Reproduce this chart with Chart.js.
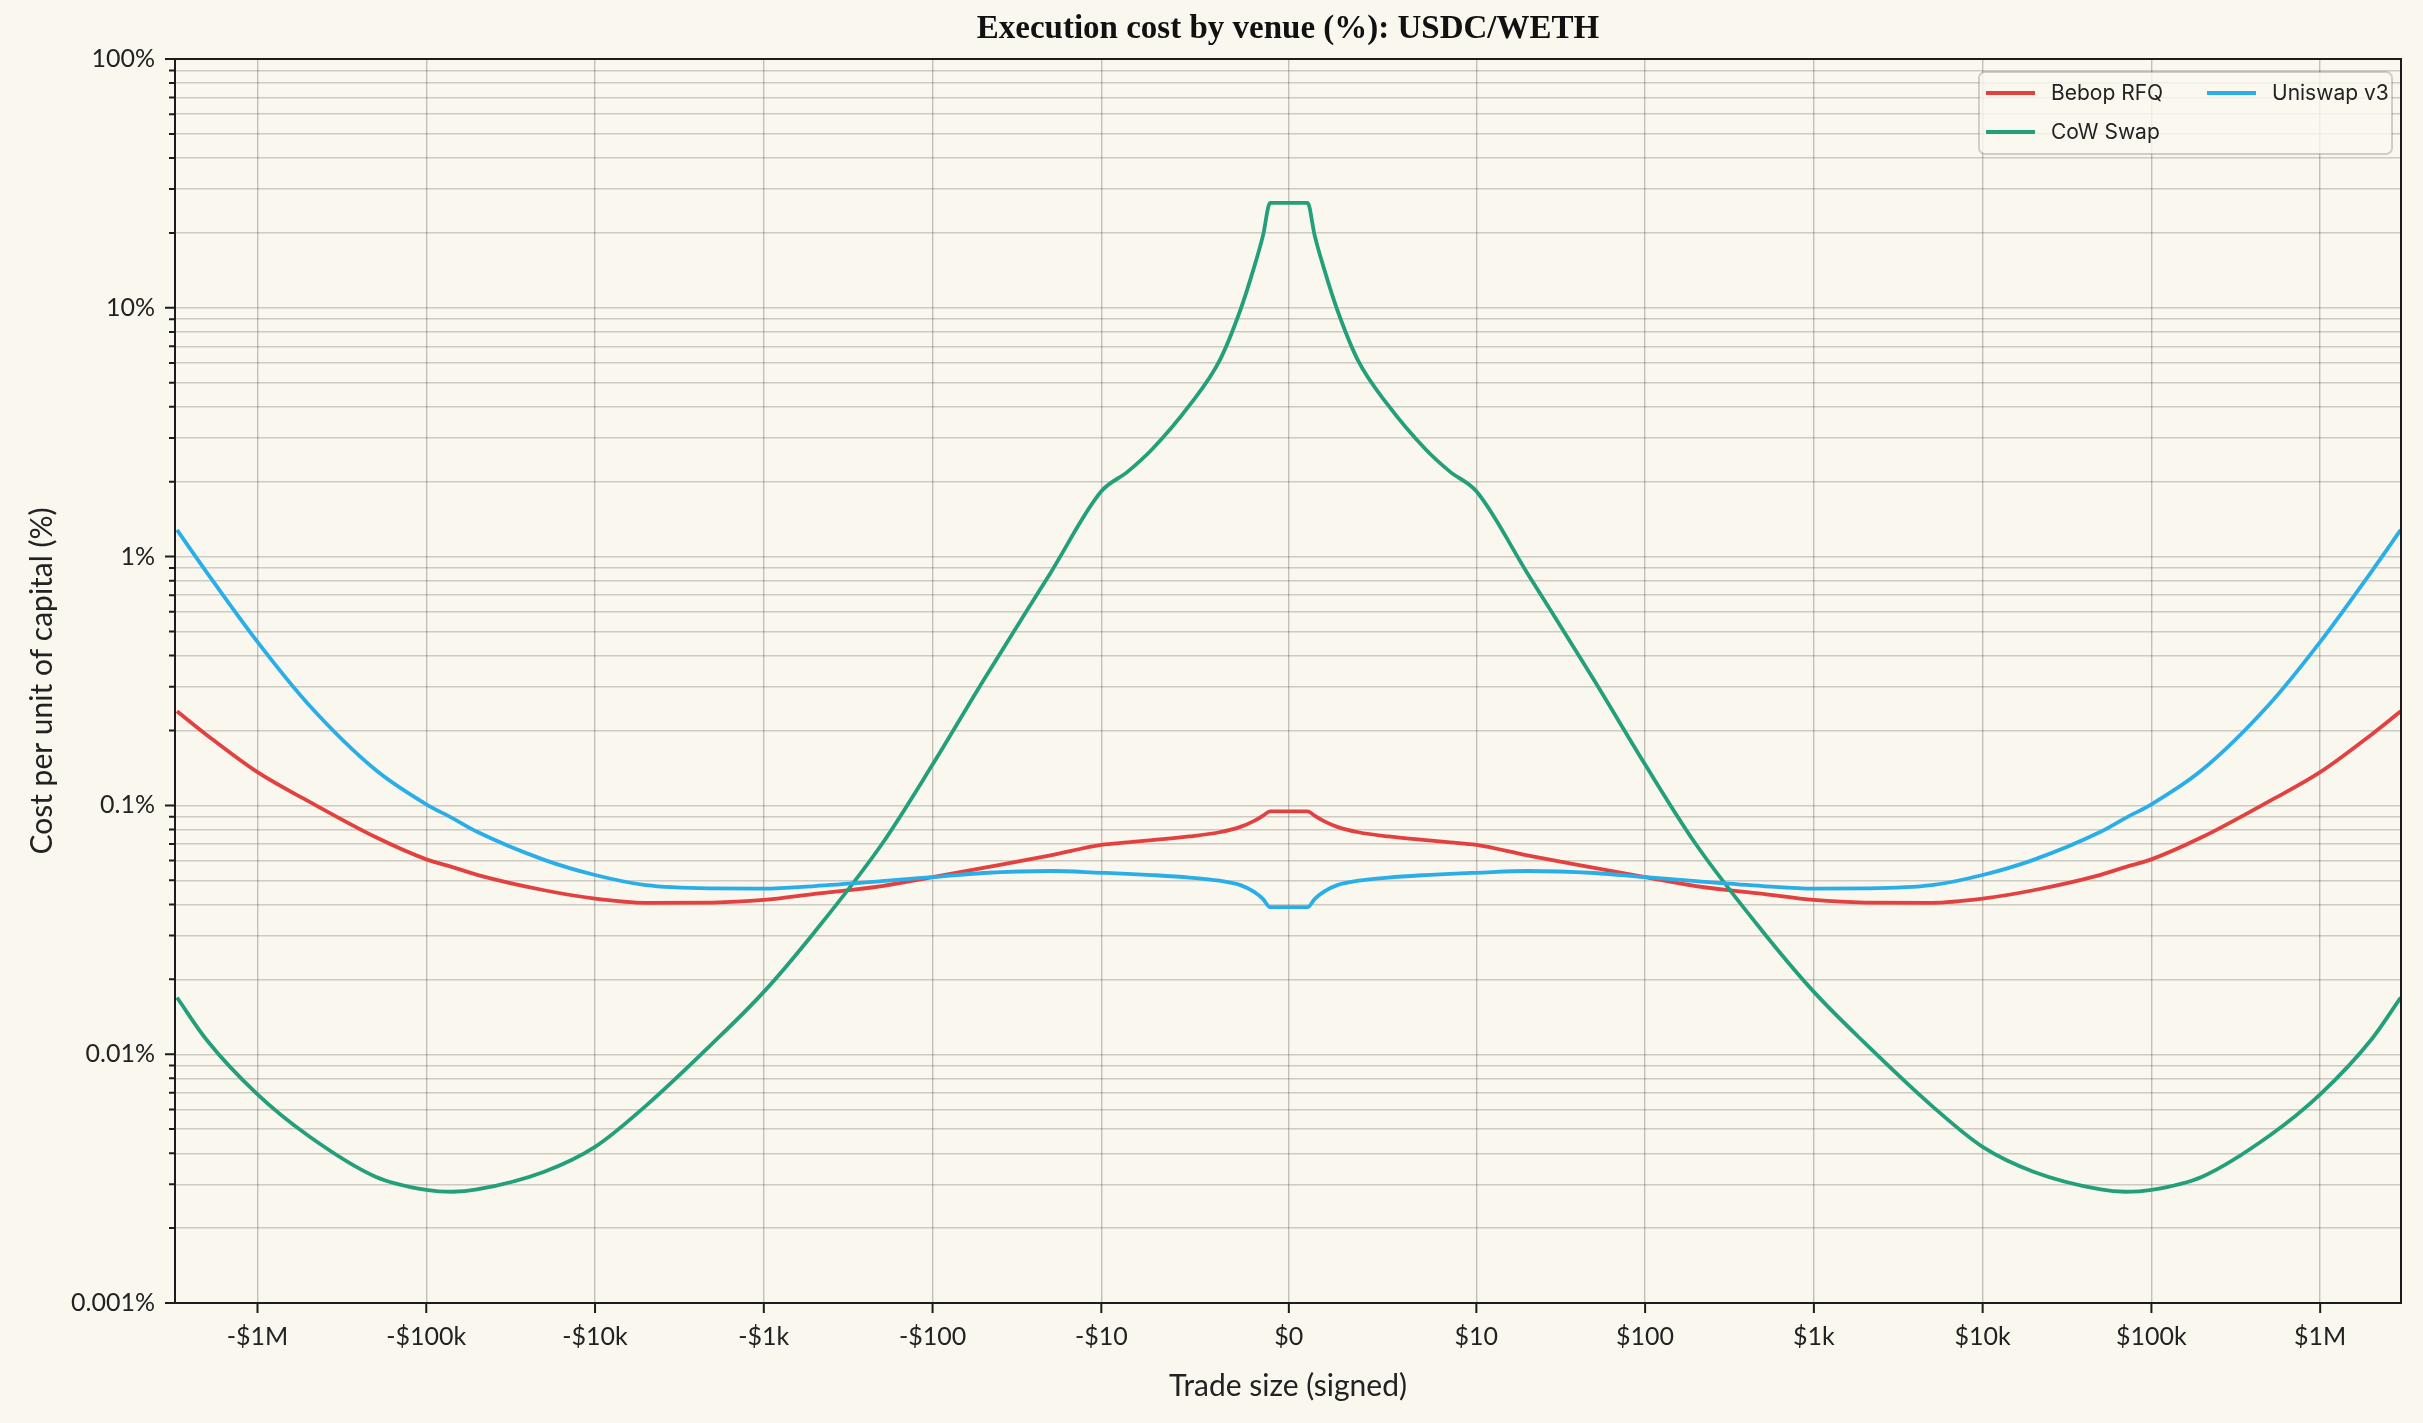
<!DOCTYPE html>
<html>
<head>
<meta charset="utf-8">
<title>Execution cost by venue</title>
<script src="https://cdn.jsdelivr.net/npm/chart.js@4.4.1/dist/chart.umd.min.js"></script>
<style>
  html, body { margin: 0; padding: 0; background: #faf7ef; }
  #wrap { width: 2423px; height: 1423px; }
</style>
</head>
<body>
<div id="wrap"><canvas id="Chart" width="2423" height="1423"></canvas></div>
<script>
// trade sizes in USD (buy side); the sell side is the mirror image
const sizes = [1, 1.1, 1.25, 1.5, 2, 3, 5, 7, 10, 20, 50, 100, 200, 500,
  1e3, 2e3, 5e3, 1e4, 2e4, 5e4, 7e4, 1e5, 2e5, 5e5, 1e6, 2e6, 3e6];

// cost per unit of capital, %
const bebopRfq = [0.0946, 0.091, 0.0865, 0.082, 0.078, 0.075, 0.0725, 0.071, 0.0694,
  0.063, 0.0561, 0.0515, 0.0474, 0.0441, 0.0417, 0.0407, 0.0406, 0.0422, 0.0456,
  0.0526, 0.0565, 0.0607, 0.0746, 0.104, 0.136, 0.192, 0.239];
const cowSwap = [26.4, 19.6, 14.4, 9.8, 6.1, 4.06, 2.7, 2.19, 1.83,
  0.86, 0.318, 0.146, 0.0698, 0.031, 0.0178, 0.0111, 0.0062, 0.00424, 0.00337,
  0.00286, 0.0028, 0.00285, 0.00322, 0.0047, 0.00689, 0.0114, 0.0169];
const uniswapV3 = [0.039, 0.042, 0.045, 0.0478, 0.0498, 0.0513, 0.0525, 0.0531, 0.0536,
  0.0545, 0.0535, 0.0515, 0.0496, 0.0474, 0.0463, 0.0464, 0.0478, 0.0525, 0.0604,
  0.0783, 0.0889, 0.101, 0.139, 0.255, 0.454, 0.865, 1.28];

const xTickValues = [-1e6, -1e5, -1e4, -1e3, -100, -10, 0, 10, 100, 1e3, 1e4, 1e5, 1e6];
const xTickLabels = ['-$1M', '-$100k', '-$10k', '-$1k', '-$100', '-$10', '$0',
  '$10', '$100', '$1k', '$10k', '$100k', '$1M'];
const yTickValues = [0.001, 0.01, 0.1, 1, 10, 100];
const yTickLabels = ['0.001%', '0.01%', '0.1%', '1%', '10%', '100%'];

// symlog, linthresh 1, linscale 0.1
const LINSCALE = 0.1 / 0.9;
function symlog(v) {
  const a = Math.abs(v);
  const u = a <= 1 ? a * LINSCALE : LINSCALE + Math.log10(a);
  return v < 0 ? -u : u;
}

function toPoints(vals) {
  const pts = [];
  for (let i = sizes.length - 1; i >= 0; i--) pts.push({ x: symlog(-sizes[i]), y: vals[i] });
  pts.push({ x: 0, y: vals[0] });
  for (let i = 0; i < sizes.length; i++) pts.push({ x: symlog(sizes[i]), y: vals[i] });
  return pts;
}

const INK = '#1c1c1c';
const TICK_FONT = { family: 'Lato', size: 25 };

const bgPlugin = {
  id: 'bg',
  beforeDraw(chart) {
    const ctx = chart.ctx;
    ctx.save();
    ctx.fillStyle = '#faf7ef';
    ctx.fillRect(0, 0, chart.width, chart.height);
    ctx.restore();
  }
};

// spines + tick marks
const framePlugin = {
  id: 'frame',
  afterDatasetsDraw(chart) {
    const { ctx, chartArea: a, scales } = chart;
    ctx.save();
    ctx.strokeStyle = INK;
    ctx.lineWidth = 2;
    ctx.beginPath();
    scales.x.ticks.forEach(t => {
      const px = scales.x.getPixelForValue(t.value);
      ctx.moveTo(px, a.bottom); ctx.lineTo(px, a.bottom + 10);
    });
    scales.y.ticks.forEach(t => {
      const py = scales.y.getPixelForValue(t.value);
      ctx.moveTo(a.left, py); ctx.lineTo(a.left - (t.major ? 10 : 6), py);
    });
    ctx.stroke();
    ctx.strokeRect(a.left, a.top, a.right - a.left, a.bottom - a.top);
    ctx.restore();
  }
};

// legend in the upper right, two columns
const legendPlugin = {
  id: 'boxLegend',
  afterDraw(chart) {
    const { ctx, chartArea: a } = chart;
    const w = 413, h = 82;
    const x0 = a.right - 9 - w, y0 = a.top + 13;
    ctx.save();
    ctx.fillStyle = 'rgba(250,247,239,0.8)';
    ctx.strokeStyle = 'rgba(0,0,0,0.17)';
    ctx.lineWidth = 2;
    ctx.beginPath();
    ctx.roundRect(x0, y0, w, h, 6);
    ctx.fill();
    ctx.stroke();
    const cells = [[0, 0], [0, 1], [1, 0]];
    const colX = [7, 228], rowY = [21, 60];
    ctx.font = '21px Inter';
    ctx.textBaseline = 'middle';
    chart.data.datasets.forEach((ds, i) => {
      const [c, r] = cells[i];
      const lx = x0 + colX[c], ly = y0 + rowY[r];
      ctx.strokeStyle = ds.borderColor;
      ctx.lineWidth = 3.8;
      ctx.beginPath();
      ctx.moveTo(lx, ly); ctx.lineTo(lx + 49, ly);
      ctx.stroke();
      ctx.fillStyle = '#222';
      ctx.fillText(ds.label, lx + 65, ly + 1);
    });
    ctx.restore();
  }
};

const ctx = document.getElementById('Chart').getContext('2d');
const chart = new Chart(ctx, {
  type: 'line',
  data: {
    datasets: [{
      label: 'Bebop RFQ',
      data: toPoints(bebopRfq),
      borderColor: '#e2413f',
      order: 2
    }, {
      label: 'CoW Swap',
      data: toPoints(cowSwap),
      borderColor: '#23a079',
      order: 1
    }, {
      label: 'Uniswap v3',
      data: toPoints(uniswapV3),
      borderColor: '#2aaee8',
      order: 0
    }]
  },
  options: {
    responsive: false,
    devicePixelRatio: 1,
    animation: false,
    layout: { padding: { left: 0, right: 22, top: 0, bottom: 0 } },
    elements: {
      point: { radius: 0 },
      line: { borderWidth: 3.8, cubicInterpolationMode: 'monotone', fill: false }
    },
    plugins: {
      legend: { display: false },
      tooltip: { enabled: false },
      title: {
        display: true,
        fullSize: false,
        text: 'Execution cost by venue (%): USDC/WETH',
        color: '#111',
        font: { family: 'Liberation Serif', size: 33, weight: 'bold' },
        padding: { top: 10, bottom: 9.4 }
      }
    },
    scales: {
      x: {
        type: 'linear',
        min: -6.60,
        max: 6.59,
        afterBuildTicks: s => { s.ticks = xTickValues.map(v => ({ value: symlog(v) })); },
        afterFit: s => { s.height = 120; },
        ticks: {
          autoSkip: false,
          maxRotation: 0,
          padding: 9,
          color: '#222',
          font: TICK_FONT,
          callback: (v, i) => xTickLabels[i]
        },
        grid: { color: 'rgba(0,0,0,0.22)', lineWidth: 1.4, tickLength: 10, tickColor: 'rgba(0,0,0,0)' },
        border: { display: false },
        title: {
          display: true,
          text: 'Trade size (signed)',
          color: '#222',
          font: { family: 'Lato', size: 30 },
          padding: { top: 0, bottom: 19 }
        }
      },
      y: {
        type: 'logarithmic',
        min: 0.001,
        max: 100,
        afterBuildTicks: s => {
          const t = [];
          for (let e = -3; e <= 1; e++) {
            for (let m = 1; m <= 9; m++) t.push({ value: m * Math.pow(10, e), major: m === 1 });
          }
          t.push({ value: 100, major: true });
          s.ticks = t;
        },
        afterFit: s => { s.width = 175; },
        ticks: {
          autoSkip: false,
          padding: 10,
          color: '#222',
          font: TICK_FONT,
          callback: v => {
            const k = yTickValues.findIndex(y => Math.abs(y - v) / y < 1e-6);
            return k >= 0 ? yTickLabels[k] : '';
          }
        },
        grid: { color: 'rgba(0,0,0,0.18)', lineWidth: 1.4, tickLength: 10, tickColor: 'rgba(0,0,0,0)' },
        border: { display: false },
        title: {
          display: true,
          text: 'Cost per unit of capital (%)',
          color: '#222',
          font: { family: 'Lato', size: 30 },
          padding: { top: 24, bottom: 0 }
        }
      }
    }
  },
  plugins: [bgPlugin, framePlugin, legendPlugin]
});
</script>
</body>
</html>
